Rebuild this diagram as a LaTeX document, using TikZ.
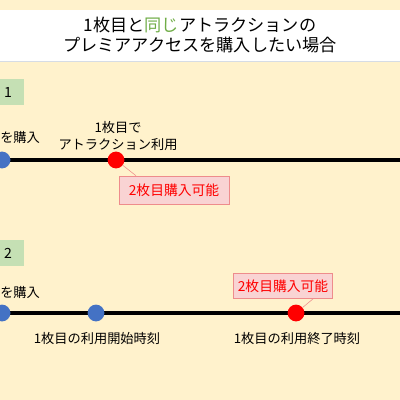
\documentclass[tikz,border=0pt]{standalone}
\usepackage{fontspec}
\setmainfont{Noto Sans CJK JP}
\usetikzlibrary{positioning}

\definecolor{cream}{HTML}{FFF2CC}
\definecolor{bandline}{HTML}{D6DCE5}
\definecolor{tabgreen}{HTML}{C5E0B4}
\definecolor{wordgreen}{HTML}{70AD47}
\definecolor{dotblue}{HTML}{4472C4}
\definecolor{dotred}{HTML}{FF0000}
\definecolor{notefill}{HTML}{F9D3D3}
\definecolor{noteline}{HTML}{EE8C8C}

\tikzset{
  bluedot/.style={circle,fill=dotblue,minimum size=0.42cm,inner sep=0pt},
  reddot/.style={circle,fill=dotred,minimum size=0.42cm,inner sep=0pt},
  tabbox/.style={fill=tabgreen,minimum width=0.9cm,minimum height=0.63cm,inner sep=0pt},
  notebox/.style={draw=noteline,fill=notefill,text=dotred,font=\fontsize{9.8}{11}\selectfont,
                  minimum width=2.75cm,minimum height=0.7cm,inner sep=0pt},
  lbl/.style={font=\fontsize{9.4}{12}\selectfont,align=center,inner sep=0pt}
}

\begin{document}
\begin{tikzpicture}[x=0.025cm,y=-0.025cm]

%background
\fill[cream] (0,0) rectangle (400,400);
\useasboundingbox (0,0) rectangle (400,400);

%title band
\fill[white] (0,10) rectangle (400,61);
\draw[bandline,thin] (0,61) -- (400,61);
\node[font=\fontsize{12.2}{14.6}\selectfont,align=center,inner sep=0pt] (title) at (200,35)
  {1枚目と{\color{wordgreen}同じ}アトラクションの\\プレミアアクセスを購入したい場合};

%%%%%%%%%%%% First pattern %%%%%%%%%%%%%%%%%%%

%tab
\node[tabbox] (tabA) at (6,92) {};
\node[lbl,font=\fontsize{10}{12}\selectfont] (numA) at (8,92) {1};

%time line
\coordinate (startA) at (0,160);
\coordinate (endA) at (400,160);
\draw[line width=2.8pt] (startA) -- (endA);

%dots
\node[bluedot] (buyA) at (2,160) {};
\node[reddot] (useA) at (116,160) {};

%labels
\node[lbl,anchor=west] (buyAtext) at (0,137) {を購入};
\node[lbl] (useAtext) at (118,136) {1枚目で\\アトラクション利用};

%callout
\node[notebox] (noteA) at (174,190) {2枚目購入可能};
\draw[noteline] (useA) -- (noteA.north -| 136,0);

%%%%%%%%%%%% Second pattern %%%%%%%%%%%%%%%%%%%

%tab
\node[tabbox] (tabB) at (6,253) {};
\node[lbl,font=\fontsize{10}{12}\selectfont] (numB) at (8,253) {2};

%time line
\coordinate (startB) at (0,313);
\coordinate (endB) at (400,313);
\draw[line width=2.8pt] (startB) -- (endB);

%dots
\node[bluedot] (buyB) at (2,313) {};
\node[bluedot] (beginB) at (96,313) {};
\node[reddot] (finishB) at (296,313) {};

%labels
\node[lbl,anchor=west] (buyBtext) at (0,292) {を購入};
\node[lbl] (beginBtext) at (97,338) {1枚目の利用開始時刻};
\node[lbl] (finishBtext) at (297,339) {1枚目の利用終了時刻};

%callout
\node[notebox,minimum width=2.48cm,minimum height=0.63cm] (noteB) at (283,286) {2枚目購入可能};
\draw[noteline] (finishB) -- (noteB.south -| 313,0);

\end{tikzpicture}
\end{document}
